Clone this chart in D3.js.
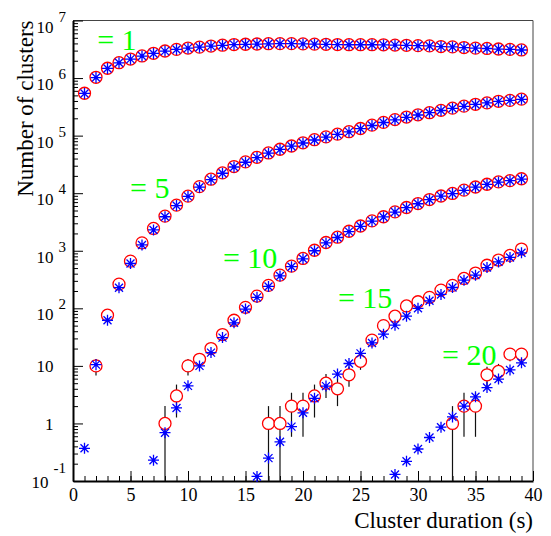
<!DOCTYPE html>
<html>
<head>
<meta charset="utf-8">
<script src="https://cdn.jsdelivr.net/npm/d3@7"></script>
<style>
  body { margin: 0; background: #fff; }
  svg { display: block; }
  text { font-family: "Liberation Serif", "Times New Roman", serif; }
</style>
</head>
<body>
<div id="chart"></div>
<script>
// cluster durations in seconds
const durations = [1, 2, 3, 4, 5, 6, 7, 8, 9, 10, 11, 12, 13, 14, 15, 16, 17, 18, 19, 20,
                   21, 22, 23, 24, 25, 26, 27, 28, 29, 30, 31, 32, 33, 34, 35, 36, 37, 38, 39];

// measured (red circles) and simulated (blue stars), each list starts at the given duration
const data1 = [5.45e5, 1.03e6, 1.48e6, 1.85e6, 2.14e6, 2.42e6, 2.69e6, 2.95e6, 3.15e6, 3.32e6,
               3.45e6, 3.6e6, 3.72e6, 3.82e6, 3.87e6, 3.91e6, 3.95e6, 3.96e6, 3.96e6, 3.93e6,
               3.89e6, 3.86e6, 3.82e6, 3.8e6, 3.8e6, 3.8e6, 3.78e6, 3.74e6, 3.71e6, 3.66e6,
               3.62e6, 3.53e6, 3.48e6, 3.39e6, 3.31e6, 3.27e6, 3.2e6, 3.15e6, 3.08e6];
const sim1  = [5.4e5, 1.02e6, 1.47e6, 1.84e6, 2.13e6, 2.41e6, 2.68e6, 2.94e6, 3.14e6, 3.31e6,
               3.44e6, 3.59e6, 3.71e6, 3.81e6, 3.86e6, 3.9e6, 3.94e6, 3.95e6, 3.95e6, 3.92e6,
               3.88e6, 3.85e6, 3.81e6, 3.79e6, 3.79e6, 3.79e6, 3.77e6, 3.73e6, 3.7e6, 3.65e6,
               3.61e6, 3.52e6, 3.47e6, 3.38e6, 3.3e6, 3.26e6, 3.19e6, 3.14e6, 3.07e6];

const data5 = [10, 76, 263, 660, 1370, 2440, 4000, 6200, 8900, 1.3e4,
               1.75e4, 2.25e4, 2.9e4, 3.5e4, 4.2e4, 5.0e4, 5.8e4, 6.6e4, 7.5e4, 8.5e4,
               9.5e4, 1.06e5, 1.17e5, 1.33e5, 1.52e5, 1.7e5, 1.9e5, 2.1e5, 2.3e5, 2.5e5,
               2.75e5, 3.0e5, 3.25e5, 3.5e5, 3.7e5, 3.95e5, 4.1e5, 4.3e5];            // from 2 s
const sim5  = [0.37, 10.5, 62, 228, 600, 1260, 2300, 3900, 6100, 8800, 1.27e4,
               1.72e4, 2.22e4, 2.85e4, 3.45e4, 4.15e4, 4.95e4, 5.75e4, 6.55e4, 7.45e4, 8.4e4,
               9.4e4, 1.05e5, 1.16e5, 1.32e5, 1.5e5, 1.69e5, 1.88e5, 2.08e5, 2.28e5, 2.5e5,
               2.73e5, 2.98e5, 3.23e5, 3.48e5, 3.7e5, 3.93e5, 4.1e5, 4.28e5];          // from 1 s

const data10 = [1, 3, 10, 13, 20, 35, 62, 104, 163, 250, 377, 540, 735, 1020, 1390, 1720,
                2180, 2690, 3300, 3900, 4730, 5640, 6600, 7760, 8930, 9900, 1.13e4, 1.28e4,
                1.43e4, 1.57e4, 1.65e4, 1.78e4];                                          // from 8 s
const sim10  = [0.23, 0.69, 1.86, 4.5, 10, 17, 31, 56, 97, 155, 240, 365, 528, 725, 1000, 1370,
                1700, 2150, 2660, 3270, 3870, 4700, 5600, 6550, 7700, 8900, 9850, 1.12e4,
                1.27e4, 1.42e4, 1.56e4, 1.65e4, 1.76e4];                                  // from 7 s

const data15 = [1, 1, 2, 2, 3, 5, 4, 7, 12, 28, 50, 73, 110, 130, 155, 207, 250, 330, 410,
                560, 690, 830, 1070];                                                     // from 17 s
const sim15  = [0.12, 0.25, 0.48, 0.88, 1.53, 2.73, 4.45, 7.2, 11, 16.5, 25, 35.6, 51, 73,
                100, 135, 174, 230, 308, 377, 510, 640, 765, 920];                        // from 16 s

const data20 = [1, 2, 2, 7, 8, 16, 16];                                                   // from 33 s
const sim20  = [0.13, 0.22, 0.36, 0.57, 0.86, 1.3, 2.0, 2.9, 4.2, 5.9, 8.5, 11.3];        // from 28 s

const series = [
    { label: "= 1",  data: data1,  dataFrom: 1,  sim: sim1,  simFrom: 1,  at: [2.1, 3.1e6] },
    { label: "= 5",  data: data5,  dataFrom: 2,  sim: sim5,  simFrom: 1,  at: [4.96, 8.3e3] },
    { label: "= 10", data: data10, dataFrom: 8,  sim: sim10, simFrom: 7,  at: [13.04, 500] },
    { label: "= 15", data: data15, dataFrom: 17, sim: sim15, simFrom: 16, at: [23.04, 101] },
    { label: "= 20", data: data20, dataFrom: 33, sim: sim20, simFrom: 28, at: [32.09, 10.4] }
];

const xTicks = [0, 5, 10, 15, 20, 25, 30, 35, 40];
const xMinorTicks = d3.range(0, 41);
const yTicks = [
    { v: 1e7, base: "10", exp: "7" }, { v: 1e6, base: "10", exp: "6" },
    { v: 1e5, base: "10", exp: "5" }, { v: 1e4, base: "10", exp: "4" },
    { v: 1e3, base: "10", exp: "3" }, { v: 1e2, base: "10", exp: "2" },
    { v: 10, base: "10", exp: "" },   { v: 1, base: "1", exp: "" },
    { v: 0.1, base: "10", exp: "-1" }
];

const width = 551, height = 536;
const plot = { left: 73, right: 533, top: 20.5, bottom: 481 };

const svg = d3.select("#chart")
    .append("svg")
    .attr("width", width)
    .attr("height", height);

const x = d3.scaleLinear().domain([0, 40]).range([plot.left, plot.right]);
const y = d3.scaleLog().domain([0.1, 1e7]).range([plot.bottom, plot.top]);

// flatten into points
const points = [];
series.forEach(s => {
    s.data.forEach((v, i) => points.push({ kind: "data", d: s.dataFrom + i, v }));
    s.sim.forEach((v, i) => points.push({ kind: "sim", d: s.simFrom + i, v }));
});
const dataPts = points.filter(p => p.kind === "data");
const simPts = points.filter(p => p.kind === "sim");

// frame top / right
svg.append("path")
    .attr("d", `M${plot.left},${plot.top}H${plot.right}V${plot.bottom}`)
    .attr("fill", "none")
    .attr("stroke", "#444")
    .attr("stroke-width", 1);

// y minor ticks (2..9 per decade)
const yMinor = [];
for (let e = -1; e < 7; e++) for (let k = 2; k <= 9; k++) yMinor.push(k * Math.pow(10, e));

svg.append("g")
    .attr("transform", `translate(${plot.left},0)`)
    .call(d3.axisLeft(y).tickValues(yMinor).tickSize(-5).tickSizeOuter(0).tickFormat(""))
    .call(g => g.select(".domain").remove())
    .selectAll("line").attr("stroke", "#000");

svg.append("g")
    .attr("transform", `translate(${plot.left},0)`)
    .call(d3.axisLeft(y).tickValues(yTicks.map(t => t.v)).tickSize(-10).tickSizeOuter(0).tickFormat(""))
    .call(g => g.select(".domain").attr("stroke-width", 2).attr("stroke", "#000"))
    .selectAll("line").attr("stroke", "#000");

// y tick labels with exponents
const yLab = svg.append("g").style("font-size", "17px").attr("fill", "#000");
yTicks.forEach(t => {
    const ty = y(t.v);
    if (!t.exp) {
        yLab.append("text")
            .attr("x", 53.5).attr("y", ty + 6.5)
            .attr("text-anchor", "end")
            .text(t.base);
    } else {
        const neg = t.exp.startsWith("-");
        const txt = yLab.append("text")
            .attr("x", 66).attr("y", ty + (neg ? 7 : 12))
            .attr("text-anchor", "end");
        txt.append("tspan").text(t.base);
        txt.append("tspan")
            .attr("dx", 5).attr("dy", neg ? -15 : -11)
            .style("font-size", "15px")
            .text(t.exp);
    }
});

// x axis
svg.append("g")
    .attr("transform", `translate(0,${plot.bottom})`)
    .call(d3.axisBottom(x).tickValues(xMinorTicks).tickSize(-5).tickSizeOuter(0).tickFormat(""))
    .call(g => g.select(".domain").remove())
    .selectAll("line").attr("stroke", "#000");

svg.append("g")
    .attr("transform", `translate(0,${plot.bottom})`)
    .call(d3.axisBottom(x).tickValues(xTicks).tickSize(-10).tickSizeOuter(0).tickPadding(7))
    .call(g => g.select(".domain").attr("stroke-width", 2).attr("stroke", "#000"))
    .call(g => g.selectAll("line").attr("stroke", "#000"))
    .selectAll("text")
    .style("font-size", "18px")
    .style("font-family", "'Liberation Serif', serif")
    .attr("fill", "#000");

// error bars (sqrt N) on measured points
svg.append("g")
    .selectAll("line")
    .data(dataPts)
    .enter()
    .append("line")
    .attr("x1", p => x(p.d))
    .attr("x2", p => x(p.d))
    .attr("y1", p => y(p.v + Math.sqrt(p.v)))
    .attr("y2", p => {
        const lo = p.v - Math.sqrt(p.v);
        return lo > 0.1 ? y(lo) : plot.bottom;
    })
    .attr("stroke", "#111")
    .attr("stroke-width", 1.2);

// measured: open red circles
svg.append("g")
    .selectAll("circle")
    .data(dataPts)
    .enter()
    .append("circle")
    .attr("cx", p => x(p.d))
    .attr("cy", p => y(p.v))
    .attr("r", 6)
    .attr("fill", "#fff")
    .attr("stroke", "#ff0000")
    .attr("stroke-width", 1.3);

// simulated: blue asterisks
const star = "M-5.5,0H5.5M0,-5.5V5.5M-4,-4L4,4M-4,4L4,-4";
const stars = svg.append("g")
    .selectAll("g")
    .data(simPts)
    .enter()
    .append("g")
    .attr("transform", p => `translate(${x(p.d)},${y(p.v)})`);
stars.append("path")
    .attr("d", star)
    .attr("stroke", "#0000ff")
    .attr("stroke-width", 1.3)
    .attr("fill", "none");
stars.append("circle")
    .attr("r", 1.7)
    .attr("fill", "#0000ff");

// series labels
svg.append("g")
    .selectAll("text")
    .data(series)
    .enter()
    .append("text")
    .attr("x", s => x(s.at[0]))
    .attr("y", s => y(s.at[1]))
    .style("font-size", "30px")
    .attr("fill", "#00ff00")
    .text(s => s.label);

// axis titles
svg.append("text")
    .attr("text-anchor", "end")
    .attr("transform", `translate(33,${plot.top}) rotate(-90)`)
    .style("font-size", "23px")
    .attr("fill", "#000")
    .text("Number of clusters");

svg.append("text")
    .attr("text-anchor", "end")
    .attr("x", plot.right)
    .attr("y", 528)
    .style("font-size", "23px")
    .attr("fill", "#000")
    .text("Cluster duration (s)");
</script>
</body>
</html>
